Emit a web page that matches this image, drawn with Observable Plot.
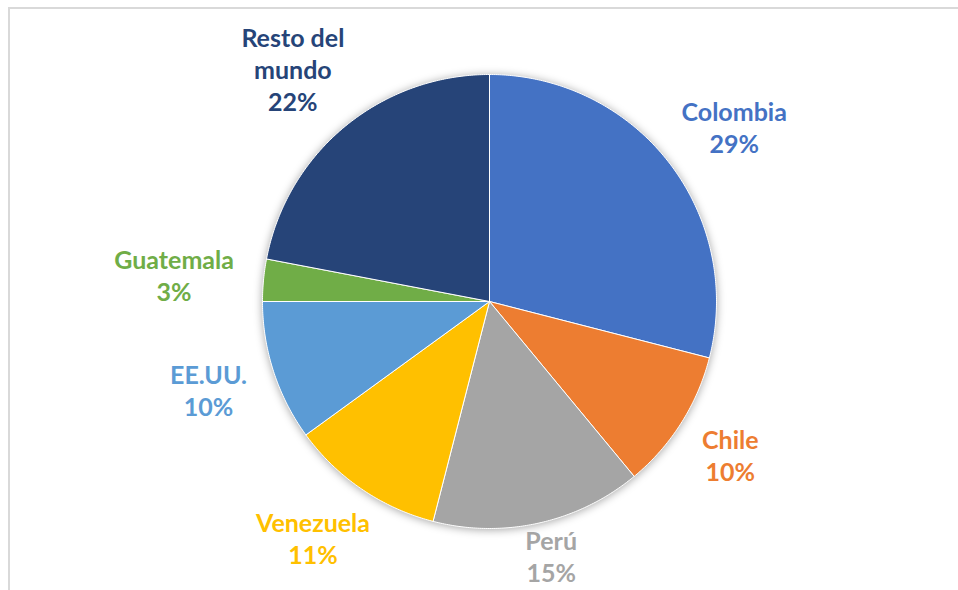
<!DOCTYPE html>
<html>
<head>
<meta charset="utf-8">
<script src="https://cdn.jsdelivr.net/npm/d3@7"></script>
<script src="https://cdn.jsdelivr.net/npm/@observablehq/plot@0.6"></script>
<style>
  html, body { margin: 0; padding: 0; background: #fff; }
  #wrap { position: relative; width: 958px; height: 590px; overflow: hidden; }
  #frame { position: absolute; left: 8px; top: 7px; right: -4px; bottom: -4px;
           border-top: 2px solid #d9d9d9; border-left: 2px solid #d9d9d9; pointer-events: none; }
</style>
</head>
<body>
<div id="wrap"><div id="frame"></div></div>
<script>
// ---- data ----
const countries = ["Colombia", "Chile", "Perú", "Venezuela", "EE.UU.", "Guatemala", "Resto del mundo"];
const labelNames = ["Colombia", "Chile", "Perú", "Venezuela", "EE.UU.", "Guatemala", "Resto del\nmundo"];
const shares = [29, 10, 15, 11, 10, 3, 22];
const sliceColors = ["#4472C4", "#ED7D31", "#A5A5A5", "#FFC000", "#5B9BD5", "#70AD47", "#264478"];

// ---- geometry (unit pie; angle clockwise from 12 o'clock) ----
const R = 227;            // pixel radius
const cx = 489, cy = 301; // pixel centre
const fontSize = 25, lineH = 32;
const total = d3.sum(shares);
let acc = 0;
const slices = countries.map((name, i) => {
  const a0 = acc / total * 2 * Math.PI;
  acc += shares[i];
  const a1 = acc / total * 2 * Math.PI;
  return {name, label: labelNames[i], share: shares[i], a0, a1, color: sliceColors[i]};
});

const pts = [];
for (const s of slices) {
  pts.push({name: s.name, x: 0, y: 0});
  const n = Math.max(2, Math.ceil((s.a1 - s.a0) / (Math.PI / 360)));
  for (let k = 0; k <= n; k++) {
    const a = s.a0 + (s.a1 - s.a0) * k / n;
    pts.push({name: s.name, x: Math.sin(a), y: Math.cos(a)});
  }
  pts.push({name: s.name, x: 0, y: 0});
}

// label placement (outside end, box touching a point just beyond the rim)
const ctx = document.createElement("canvas").getContext("2d");
ctx.font = `bold ${fontSize}px Lato`;
const gap = 30 / R;
const yMin = (cy - 590) / R, yMax = (cy - 0) / R;
const labels = slices.map(s => {
  const text = `${s.label}\n${s.share}%`;
  const lines = text.split("\n");
  const w = d3.max(lines, l => ctx.measureText(l).width) / R;
  const h = (lines.length * lineH - (lineH - fontSize)) / R;
  const m = (s.a0 + s.a1) / 2;
  let x = (1 + gap) * Math.sin(m) + Math.sin(m) * w / 2;
  let y = (1 + gap) * Math.cos(m) + Math.cos(m) * h / 2;
  y = Math.max(yMin + h / 2 + 6 / R, Math.min(yMax - h / 2, y));
  return {name: s.name, text, x, y};
});

const chart = Plot.plot({
  width: 958,
  height: 590,
  margin: 0,
  x: {domain: [-1, 1], range: [cx - R, cx + R], axis: null},
  y: {domain: [-1, 1], range: [cy + R, cy - R], axis: null},
  color: {domain: countries, range: sliceColors, legend: false},
  style: {background: "transparent", overflow: "visible"},
  marks: [
    Plot.line(pts, {x: "x", y: "y", z: "name", fill: "name", stroke: "white", strokeWidth: 1, curve: "linear"}),
    Plot.text(labels, {
      x: "x", y: "y", text: "text", fill: "name",
      fontFamily: "Lato", fontWeight: "bold", fontSize: fontSize,
      lineHeight: lineH / fontSize, textAnchor: "middle", lineAnchor: "middle"
    })
  ]
});
const g = chart.querySelector('g[aria-label="line"]');
if (g) g.style.filter = "drop-shadow(0px 1px 4px rgba(0,0,0,0.35))";
chart.style.position = "absolute";
chart.style.left = "0";
chart.style.top = "0";
document.getElementById("wrap").prepend(chart);
</script>
</body>
</html>
